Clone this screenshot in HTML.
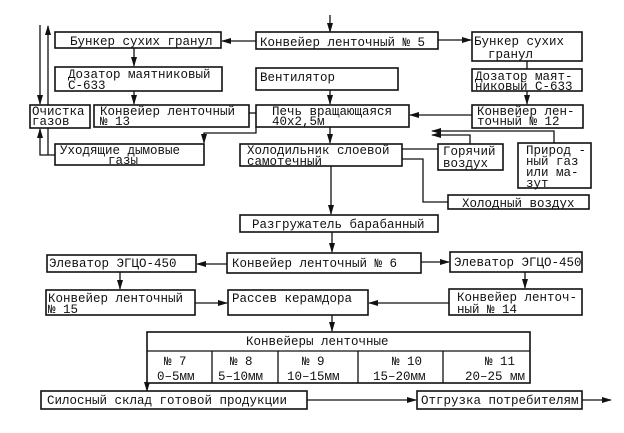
<!DOCTYPE html>
<html><head><meta charset="utf-8"><style>
html,body{margin:0;padding:0;background:#fff}
svg{display:block}
text{font-family:"Liberation Mono","DejaVu Sans Mono",monospace;font-size:12.5px;fill:#111}
rect{fill:#fff;stroke:#111;stroke-width:1.6}
line,polyline{stroke:#111;stroke-width:1.3;fill:none}
</style></head><body>
<svg width="624" height="433" viewBox="0 0 624 433" xmlns="http://www.w3.org/2000/svg">
<defs><marker id="a" markerWidth="10" markerHeight="6" refX="9" refY="3" orient="auto" markerUnits="userSpaceOnUse"><path d="M0,0 L10,3 L0,6 z" fill="#111"/></marker></defs>

<!-- connectors -->
<line x1="330" y1="15" x2="330" y2="32" marker-end="url(#a)"/>
<line x1="256" y1="41" x2="222" y2="41" marker-end="url(#a)"/>
<line x1="438" y1="40" x2="471" y2="40" marker-end="url(#a)"/>
<line x1="134" y1="48" x2="134" y2="66" marker-end="url(#a)"/>
<line x1="134" y1="91" x2="134" y2="104" marker-end="url(#a)"/>
<line x1="330" y1="90" x2="330" y2="104" marker-end="url(#a)"/>
<line x1="330" y1="127" x2="330" y2="143" marker-end="url(#a)"/>
<line x1="331" y1="166" x2="331" y2="214" marker-end="url(#a)"/>
<line x1="332" y1="232" x2="332" y2="252" marker-end="url(#a)"/>
<line x1="527" y1="61" x2="527" y2="69"/>
<line x1="527" y1="91" x2="527" y2="104" marker-end="url(#a)"/>
<line x1="472" y1="115" x2="410" y2="115" marker-end="url(#a)"/>
<polyline points="249,113 256,113"/>
<polyline points="256,127 256,133 204,133 204,143" marker-end="url(#a)"/>
<!-- left gas lines -->
<line x1="40" y1="25" x2="40" y2="104" marker-end="url(#a)"/>
<line x1="48" y1="105" x2="48" y2="26" marker-end="url(#a)"/>
<polyline points="55,155 40,155 40,129" marker-end="url(#a)"/>
<line x1="48" y1="128" x2="48" y2="155"/>
<!-- hot air etc -->
<polyline points="470,144 470,135 432,135" marker-end="url(#a)"/>
<polyline points="554,143 554,131 432,131" marker-end="url(#a)"/>
<line x1="402" y1="149" x2="438" y2="149"/>
<polyline points="402,159 423,159 423,202 448,202"/>
<!-- lower -->
<line x1="227" y1="264" x2="197" y2="264" marker-end="url(#a)"/>
<line x1="421" y1="262" x2="449" y2="262" marker-end="url(#a)"/>
<line x1="120" y1="272" x2="120" y2="289" marker-end="url(#a)"/>
<line x1="525" y1="272" x2="525" y2="288" marker-end="url(#a)"/>
<line x1="195" y1="303" x2="227" y2="303" marker-end="url(#a)"/>
<line x1="449" y1="303" x2="369" y2="303" marker-end="url(#a)"/>
<line x1="332" y1="315" x2="332" y2="331" marker-end="url(#a)"/>
<line x1="147" y1="383" x2="147" y2="391" marker-end="url(#a)"/>
<line x1="307" y1="400" x2="416" y2="400" marker-end="url(#a)"/>
<line x1="582" y1="400" x2="611" y2="400" marker-end="url(#a)"/>

<!-- boxes -->
<rect x="55" y="32" width="166" height="16"/><text x="70" y="45">Бункер сухих гранул</text>
<rect x="256" y="32" width="182" height="17"/><text x="260" y="46">Конвейер ленточный № 5</text>
<rect x="472" y="32" width="110" height="29"/><text x="474" y="45">Бункер сухих</text><text x="488" y="58">гранул</text>
<rect x="55" y="67" width="167" height="24"/><text x="68" y="78">Дозатор маятниковый</text><text x="68" y="89">С-633</text>
<rect x="256" y="68" width="142" height="22"/><text x="260" y="81">Вентилятор</text>
<rect x="472" y="69" width="110" height="22"/><text x="475" y="80">Дозатор маят-</text><text x="475" y="90">никовый С-633</text>
<rect x="30" y="105" width="60" height="23"/><text x="32" y="115">Очистка</text><text x="32" y="125">газов</text>
<rect x="94" y="105" width="155" height="22"/><text x="100" y="115">Конвейер ленточный</text><text x="100" y="125">№ 13</text>
<rect x="256" y="105" width="153" height="22"/><text x="272" y="115">Печь вращающаяся</text><text x="272" y="125">40х2,5м</text>
<rect x="472" y="105" width="111" height="23"/><text x="477" y="115">Конвейер лен-</text><text x="477" y="125">точный № 12</text>
<rect x="55" y="144" width="149" height="21"/><text x="60" y="154">Уходящие дымовые</text><text x="108" y="164">газы</text>
<rect x="240" y="144" width="162" height="22"/><text x="247" y="154">Холодильник слоевой</text><text x="247" y="165">самотечный</text>
<rect x="438" y="144" width="65" height="26"/><text x="443" y="155">Горячий</text><text x="443" y="167">воздух</text>
<rect x="518" y="143" width="73" height="45"/><text x="526" y="154">Природ -</text><text x="526" y="165">ный газ</text><text x="526" y="176">или ма-</text><text x="526" y="187">зут</text>
<rect x="448" y="195" width="141" height="14"/><text x="462" y="207">Холодный воздух</text>
<rect x="240" y="215" width="198" height="17"/><text x="252" y="228">Разгружатель барабанный</text>
<rect x="47" y="255" width="149" height="17"/><text x="49" y="267">Элеватор ЭГЦО-450</text>
<rect x="227" y="253" width="194" height="20"/><text x="232" y="267">Конвейер ленточный № 6</text>
<rect x="450" y="252" width="132" height="20"/><text x="454" y="266">Элеватор ЭГЦО-450</text>
<rect x="46" y="290" width="149" height="25"/><text x="48" y="302">Конвейер ленточный</text><text x="48" y="313">№ 15</text>
<rect x="228" y="290" width="140" height="25"/><text x="232" y="302">Рассев керамдора</text>
<rect x="449" y="289" width="133" height="26"/><text x="457" y="301">Конвейер ленточ-</text><text x="457" y="313">ный № 14</text>
<!-- table -->
<rect x="147" y="332" width="383" height="51"/>
<line x1="147" y1="351" x2="530" y2="351"/>
<line x1="212" y1="351" x2="212" y2="383"/>
<line x1="278" y1="351" x2="278" y2="383"/>
<line x1="358" y1="351" x2="358" y2="383"/>
<line x1="443" y1="351" x2="443" y2="383"/>
<text x="246" y="345">Конвейеры ленточные</text>
<g style="font-family:'Liberation Sans',sans-serif;font-size:12.5px">
<text x="164" y="365">№ 7</text><text x="157" y="380">0–5мм</text>
<text x="230" y="365">№ 8</text><text x="218" y="380">5–10мм</text>
<text x="302" y="365">№ 9</text><text x="287" y="380">10–15мм</text>
<text x="392" y="365">№ 10</text><text x="373" y="380">15–20мм</text>
<text x="485" y="365">№ 11</text><text x="465" y="380">20–25 мм</text>
</g>
<rect x="41" y="391" width="266" height="18"/><text x="47" y="404">Силосный склад готовой продукции</text>
<rect x="417" y="391" width="165" height="18"/><text x="421" y="404">Отгрузка потребителям</text>
</svg>
</body></html>
